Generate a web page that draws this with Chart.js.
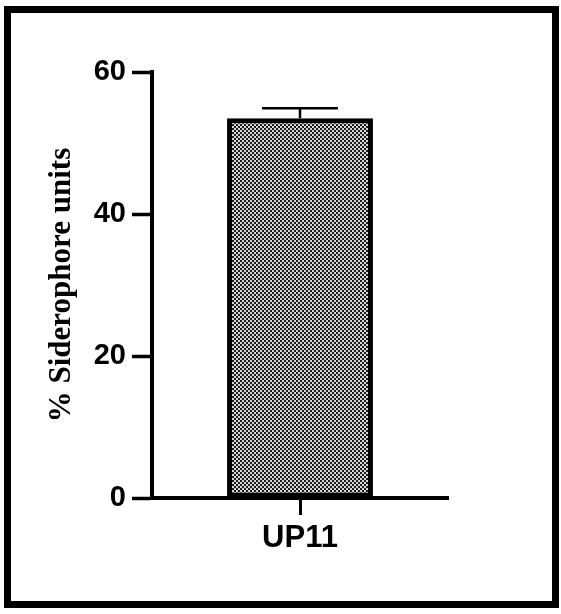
<!DOCTYPE html>
<html><head><meta charset="utf-8">
<script src="https://cdn.jsdelivr.net/npm/chart.js@4"></script>
<style>html,body{margin:0;padding:0;background:#fff;} canvas{display:block;}</style>
</head><body>
<canvas id="c" width="561" height="614"></canvas>
<script>
const categories = ['UP11'];
const values = [53.5];
const errors = [1.4];
const yTicks = [0, 20, 40, 60];
const yTitle = '% Siderophore units';

const canvas = document.getElementById('c');
const ctx = canvas.getContext('2d');

function makePattern() {
  const p = document.createElement('canvas');
  p.width = 4; p.height = 4;
  const g = p.getContext('2d');
  g.fillStyle = '#d8d8d8'; g.fillRect(0, 0, 4, 4);
  g.fillStyle = '#1a1a1a'; g.fillRect(0, 0, 2, 2); g.fillRect(2, 2, 2, 2);
  return ctx.createPattern(p, 'repeat');
}

const framePlugin = {
  id: 'frame',
  beforeDraw(chart) {
    const c = chart.ctx;
    c.save(); c.fillStyle = '#fff'; c.fillRect(0, 0, chart.width, chart.height); c.restore();
  },
  afterDraw(chart) {
    const c = chart.ctx;
    c.save(); c.strokeStyle = '#000'; c.lineWidth = 7;
    c.strokeRect(7.5, 9.5, 548, 595); c.restore();
  }
};

const errorPlugin = {
  id: 'errbars',
  afterDatasetsDraw(chart) {
    const meta = chart.getDatasetMeta(0);
    const ys = chart.scales.y;
    const c = chart.ctx;
    c.save(); c.strokeStyle = '#000'; c.lineWidth = 2.5;
    meta.data.forEach((el, i) => {
      const top = ys.getPixelForValue(values[i] + errors[i]);
      const half = el.width * 0.26;
      c.beginPath();
      c.moveTo(el.x, el.y); c.lineTo(el.x, top);
      c.moveTo(el.x - half, top); c.lineTo(el.x + half, top);
      c.stroke();
    });
    c.restore();
  }
};

new Chart(ctx, {
  type: 'bar',
  data: {
    labels: categories,
    datasets: [{
      data: values,
      backgroundColor: makePattern(),
      borderColor: '#000',
      borderWidth: 5,
      borderSkipped: false,
      barPercentage: 0.493,
      categoryPercentage: 1.0
    }]
  },
  options: {
    responsive: false,
    animation: false,
    devicePixelRatio: 1,
    layout: { padding: { left: 43, right: 113, top: 72, bottom: 56 } },
    plugins: { legend: { display: false }, tooltip: { enabled: false } },
    scales: {
      x: {
        grid: { display: true, drawOnChartArea: false, offset: false, tickLength: 17, tickWidth: 3, tickColor: '#000' },
        border: { display: true, color: '#000', width: 4 },
        ticks: { color: '#000', padding: 5, font: { family: 'Liberation Sans', weight: 'bold', size: 31 } },
        afterFit(s) { s.height = 60; }
      },
      y: {
        min: 0, max: 60,
        afterBuildTicks(s) { s.ticks = yTicks.map(v => ({ value: v })); },
        grid: { display: true, drawOnChartArea: false, tickLength: 20, tickWidth: 3.5, tickColor: '#000' },
        border: { display: true, color: '#000', width: 4 },
        ticks: { color: '#000', padding: 6, font: { family: 'Liberation Sans', weight: 'bold', size: 29 } },
        title: { display: true, text: yTitle, color: '#000', padding: 0,
                 font: { family: 'Liberation Serif', weight: 'bold', size: 31 } },
        afterFit(s) { s.width = 109; }
      }
    }
  },
  plugins: [framePlugin, errorPlugin]
});
</script>
</body></html>
